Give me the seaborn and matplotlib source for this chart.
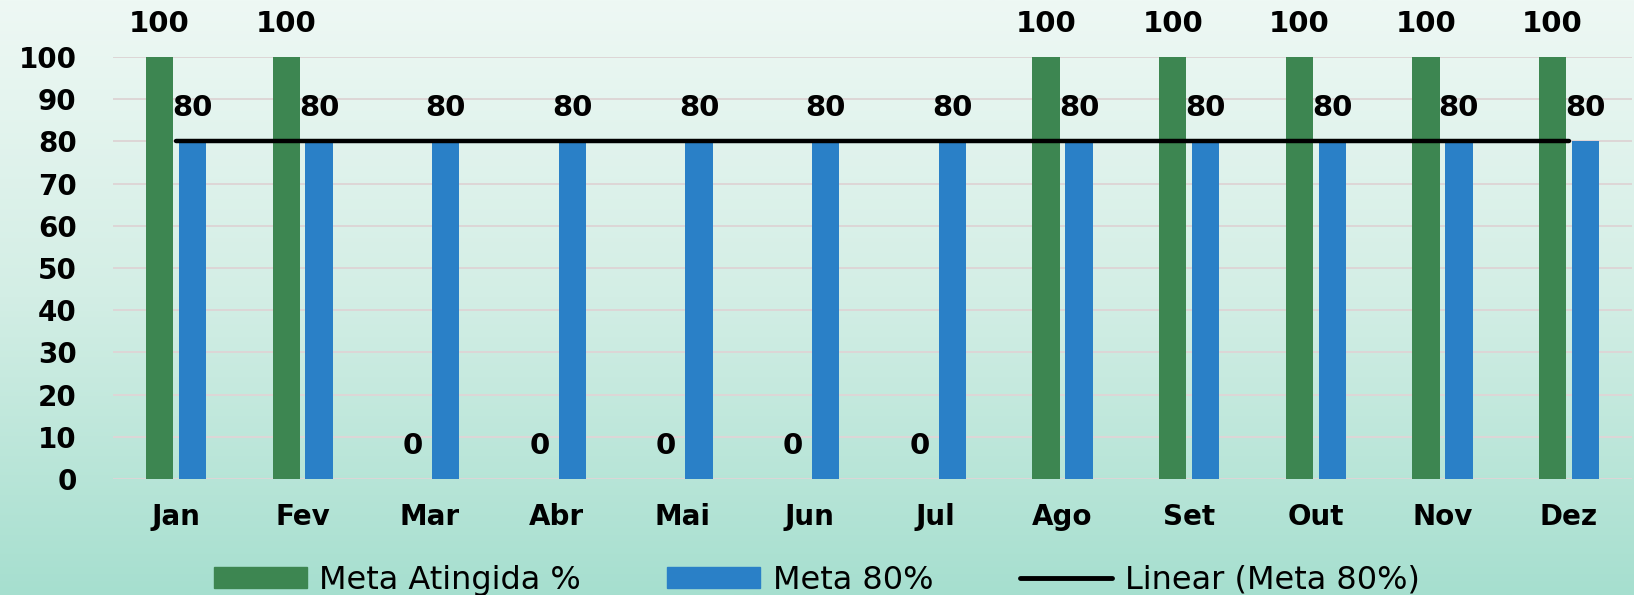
import numpy as np
import pandas as pd
import matplotlib
matplotlib.use("Agg")
import matplotlib.pyplot as plt
import seaborn as sns
from matplotlib.patches import Patch
from matplotlib.lines import Line2D

meses = ["Jan", "Fev", "Mar", "Abr", "Mai", "Jun", "Jul", "Ago", "Set", "Out", "Nov", "Dez"]
meta_atingida = [100, 100, 0, 0, 0, 0, 0, 100, 100, 100, 100, 100]
meta_80 = [80, 80, 80, 80, 80, 80, 80, 80, 80, 80, 80, 80]
serie_nomes = ["Meta Atingida %", "Meta 80%"]
y_ticks = list(range(0, 101, 10))

verde = "#3d8651"
azul = "#2a80c7"

df = pd.DataFrame({
    "mes": meses * 2,
    "valor": meta_atingida + meta_80,
    "serie": [serie_nomes[0]] * len(meses) + [serie_nomes[1]] * len(meses),
})

sns.set_style("white")
plt.rcParams["font.family"] = ["DejaVu Sans"]
plt.rcParams["text.color"] = "black"
plt.rcParams["xtick.color"] = "black"
plt.rcParams["ytick.color"] = "black"

fig = plt.figure(figsize=(16.34, 5.95), dpi=100)

# fundo em degrade
bg = fig.add_axes([0, 0, 1, 1], zorder=-10)
grad = np.linspace(0, 1, 256).reshape(-1, 1)
cmap = matplotlib.colors.LinearSegmentedColormap.from_list("bg", ["#eef8f4", "#d3eee5", "#a6dfcf"])
bg.imshow(grad, aspect="auto", cmap=cmap, extent=[0, 1, 0, 1], origin="upper")
bg.axis("off")

ax = fig.add_axes([0.069, 0.195, 0.93, 0.709])
ax.set_facecolor("none")

sns.barplot(data=df, x="mes", y="valor", hue="serie", order=meses,
            hue_order=serie_nomes, palette=[verde, azul], width=0.52, gap=0.17,
            saturation=1, linewidth=0, legend=False, ax=ax)

for cont in ax.containers:
    ax.bar_label(cont, fmt="%d", padding=14, fontsize=21, fontweight="bold", color="black")

# tendencia linear da Meta 80%
x = np.arange(len(meses))
coef = np.polyfit(x, meta_80, 1)
ax.plot(x, np.polyval(coef, x), color="black", lw=3.2, solid_capstyle="round", zorder=5)

ax.set_xlim(-0.5, len(meses) - 0.5)
ax.set_ylim(0, 100)
ax.set_yticks(y_ticks)
ax.yaxis.grid(True, color="#ddd6d6", lw=1.4)
ax.set_axisbelow(True)
for s in ax.spines.values():
    s.set_visible(False)
ax.tick_params(axis="y", length=0, pad=26, labelsize=20)
ax.tick_params(axis="x", length=0, pad=17, labelsize=20)
for lbl in ax.get_xticklabels() + ax.get_yticklabels():
    lbl.set_fontweight("bold")
ax.set_xlabel("")
ax.set_ylabel("")

handles = [Patch(color=verde), Patch(color=azul), Line2D([0], [0], color="black", lw=3.5)]
fig.legend(handles, [serie_nomes[0], serie_nomes[1], "Linear (Meta 80%)"],
           loc="center", bbox_to_anchor=(0.5, 0.025), ncol=3, frameon=False,
           fontsize=23, handlelength=2.9, handleheight=0.6, columnspacing=2.7,
           handletextpad=0.4, borderaxespad=0)

fig.savefig("out.png", dpi=100)
